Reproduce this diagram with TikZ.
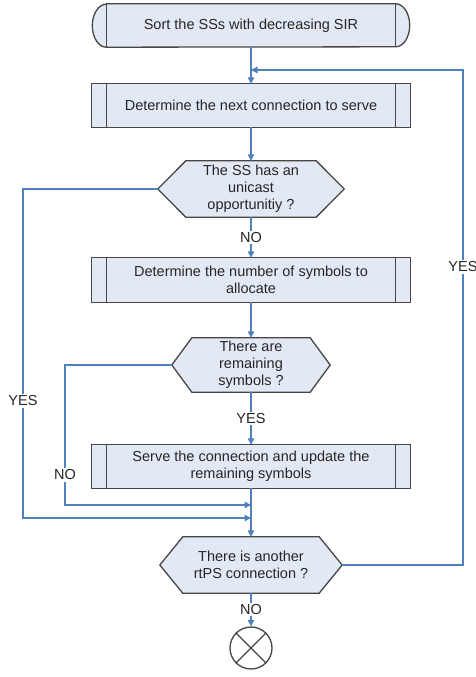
\documentclass[tikz,border=0pt]{standalone}
\usepackage{fontspec}
\setmainfont{Liberation Sans}
\usetikzlibrary{arrows.meta,backgrounds}
\definecolor{boxfill}{RGB}{226,233,244}
\definecolor{boxdraw}{RGB}{70,70,70}
\definecolor{linkblue}{RGB}{79,129,189}
\tikzset{
  txt/.style={font=\fontsize{14.5}{17}\selectfont, align=center, inner sep=0pt, text=black!85},
  procbox/.style={txt, rectangle, minimum width=318pt, minimum height=43pt},
  decbox/.style={txt, rectangle, minimum height=56pt},
  shapeline/.style={draw=boxdraw, fill=boxfill, line width=1.3pt},
  link/.style={draw=linkblue, line width=1.2pt},
  arr/.style={link, -{Triangle[length=6.5pt,width=6.5pt]}},
  lab/.style={txt, fill=white, inner sep=1.5pt},
}
\begin{document}
\begin{tikzpicture}[x=1pt,y=-1pt]
\useasboundingbox (0,0) rectangle (476,677);

% nodes
\node[procbox, minimum width=317pt] (term) at (251,25.5) {Sort the SSs with decreasing SIR};
\node[procbox] (b1) at (251,105.5) {Determine the next connection to serve};
\node[decbox, minimum width=186pt] (h1) at (251,189) {The SS has an\\unicast\\opportunitiy ?};
\node[procbox, minimum height=44pt] (b2) at (251,280) {Determine the number of symbols to\\allocate};
\node[decbox, minimum width=158pt, minimum height=54pt] (h2) at (251,365) {There are\\remaining\\symbols ?};
\node[procbox] (b3) at (251,466.5) {Serve the connection and update the\\remaining symbols};
\node[decbox, minimum width=182pt] (h3) at (251,565) {There is another\\rtPS connection ?};
\node[circle, minimum size=42pt, inner sep=0pt, draw=boxdraw, line width=1.3pt, fill=white] (stop) at (251,648) {};
\draw[boxdraw, line width=1.3pt] (stop.north west) -- (stop.south east) (stop.north east) -- (stop.south west);

% shapes behind the texts
\begin{pgfonlayer}{background}
  \draw[shapeline] ([xshift=14pt]term.north west) -- ([xshift=-14pt]term.north east)
    arc[start angle=90, end angle=-90, x radius=14pt, y radius=21.5pt]
    -- ([xshift=14pt]term.south west)
    arc[start angle=270, end angle=90, x radius=14pt, y radius=21.5pt] -- cycle;
  \draw[boxdraw, line width=1.3pt]
    ([xshift=14pt]term.north west) -- ([xshift=14pt]term.south west)
    ([xshift=-14pt]term.north east) -- ([xshift=-14pt]term.south east);
  \foreach \n in {b1,b2,b3} {
    \draw[shapeline] (\n.north west) rectangle (\n.south east);
    \draw[boxdraw, line width=1.3pt]
      ([xshift=15pt]\n.north west) -- ([xshift=15pt]\n.south west)
      ([xshift=-15pt]\n.north east) -- ([xshift=-15pt]\n.south east);
  }
  \foreach \n/\c in {h1/28,h2/20,h3/23} {
    \draw[shapeline] ([xshift=\c pt]\n.north west) -- ([xshift=-\c pt]\n.north east) -- (\n.east)
      -- ([xshift=-\c pt]\n.south east) -- ([xshift=\c pt]\n.south west) -- (\n.west) -- cycle;
  }
\end{pgfonlayer}

% main column
\draw[arr] (term.south) -- (b1.north);
\draw[arr] (b1.south) -- (h1.north);
\draw[arr] (h1.south) -- (b2.north) node[lab, pos=0.5] (no1) {NO};
\draw[arr] (b2.south) -- (h2.north);
\draw[arr] (h2.south) -- (b3.north) node[lab, pos=0.5] (yes2) {YES};
\draw[arr] (b3.south) -- (h3.north);
\draw[arr] (h3.south) -- (stop.north) node[lab, pos=0.5] (no3) {NO};

% side loops
\coordinate (lbot) at (23,518);
\coordinate (ibot) at (65,505);
\coordinate (rtop) at (463,70);
\coordinate (rbot) at (463,565);

\draw[arr] (h1.west) -| (lbot) -- (h3.north |- lbot);
\draw[arr] (h2.west) -| (ibot) -- (h3.north |- ibot);
\draw[arr] (h3.east) -- (rbot) -- (rtop) -- (term.south |- rtop);

\node[lab] (yes1) at (23,401) {YES};
\node[lab] (no2) at (65,475) {NO};
\node[lab] (yes3) at (463,267) {YES};
\end{tikzpicture}
\end{document}
